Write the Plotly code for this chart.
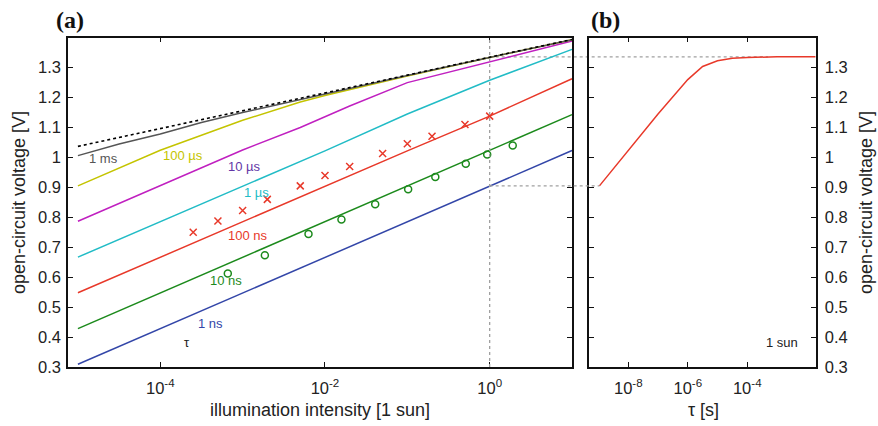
import plotly.graph_objects as go

# ---------------- data ----------------
# panel (a): log10 illumination intensity [1 sun]
log_I = [-5, -4, -3, -2, -1, 0, 1]
v_rad = [1.037, 1.096, 1.156, 1.215, 1.275, 1.335, 1.394]          # dotted limit
log_I_1ms = [-5, -4.5, -4, -3.5, -3, -2, -1, 0, 1]
v_1ms = [1.006, 1.045, 1.078, 1.117, 1.150, 1.213, 1.274, 1.334, 1.393]
log_I_100us = [-5, -4.5, -4, -3, -2.3, -2, -1.5, -1, 0, 1]
v_100us = [0.905, 0.965, 1.024, 1.124, 1.185, 1.207, 1.240, 1.272, 1.334, 1.393]
log_I_10us = [-5, -4, -3, -2.3, -2, -1.7, -1, 0, 1]
v_10us = [0.787, 0.907, 1.025, 1.100, 1.135, 1.172, 1.250, 1.319, 1.389]
v_1us = [0.667, 0.786, 0.905, 1.022, 1.145, 1.258, 1.361]
v_100ns = [0.548, 0.667, 0.786, 0.905, 1.022, 1.138, 1.263]
v_10ns = [0.428, 0.547, 0.666, 0.785, 0.904, 1.023, 1.143]
v_1ns = [0.309, 0.428, 0.547, 0.666, 0.785, 0.905, 1.023]

# measured points
x_cross_log = [-3.6, -3.3, -3.0, -2.7, -2.3, -2.0, -1.7, -1.3, -1.0, -0.7, -0.3, 0.0]
v_cross = [0.750, 0.788, 0.823, 0.860, 0.905, 0.940, 0.970, 1.013, 1.046, 1.071, 1.110, 1.138]
x_circ_log = [-3.18, -2.73, -2.20, -1.80, -1.39, -0.99, -0.66, -0.29, -0.03, 0.28]
v_circ = [0.612, 0.673, 0.744, 0.793, 0.844, 0.894, 0.935, 0.979, 1.010, 1.040]

# panel (b): log10 tau [s] at 1 sun
log_tau = [-8.97, -8.0, -7.0, -6.0, -5.5, -5.0, -4.5, -4.0, -3.0, -1.70]
v_tau = [0.905, 1.023, 1.145, 1.260, 1.304, 1.323, 1.331, 1.334, 1.336, 1.336]
log_tau_guide_end = -3.30

# labels
curve_labels = ["1 ms", "100 µs", "10 µs", "1 µs", "100 ns", "10 ns", "1 ns", "τ"]
label_log_I = [-4.69, -3.73, -2.98, -2.83, -2.94, -3.20, -3.39, -3.68]
label_v = [0.997, 1.007, 0.970, 0.883, 0.740, 0.590, 0.446, 0.383]

y_ticks = [0.3, 0.4, 0.5, 0.6, 0.7, 0.8, 0.9, 1.0, 1.1, 1.2, 1.3]
y_ticktext = ["0.3", "0.4", "0.5", "0.6", "0.7", "0.8", "0.9", "1", "1.1", "1.2", "1.3"]
xa_exps = [-4, -2, 0]
xb_exps = [-8, -6, -4]

# ---------------- styles ----------------
C_GRAY = "#555555"
C_YEL = "#c4c400"
C_MAG = "#c020c0"
C_CYAN = "#22bcc6"
C_RED = "#e8392a"
C_GREEN = "#1c8a1c"
C_BLUE = "#3346a8"
C_PURPLE = "#6236a6"
FONT = "Liberation Sans, Arial, sans-serif"

xa_rng = [-5.12, 1.0]
xb_rng = [-9.31, -1.70]
xa_dom = [0.0775, 0.6515]
xb_dom = [0.6712, 0.929]
y_dom = [0.1385, 0.9115]
y_rng = [0.3, 1.4]

def p10(v):
    return [10 ** a for a in v]

fig = go.Figure()

def line(xl, y, color, dash="solid", xaxis="x", yaxis="y", width=1.5):
    fig.add_trace(go.Scatter(x=p10(xl), y=y, mode="lines", xaxis=xaxis, yaxis=yaxis,
                             line=dict(color=color, width=width, dash=dash), showlegend=False,
                             hoverinfo="skip"))

line(log_I, v_1ns, C_BLUE)
line(log_I, v_10ns, C_GREEN)
line(log_I, v_100ns, C_RED)
line(log_I, v_1us, C_CYAN)
line(log_I_10us, v_10us, C_MAG)
line(log_I_100us, v_100us, C_YEL)
line(log_I_1ms, v_1ms, C_GRAY)
line(log_I, v_rad, "#000000", dash="dot", width=1.6)

fig.add_trace(go.Scatter(x=p10(x_cross_log), y=v_cross, mode="markers", showlegend=False,
                         marker=dict(symbol="x-thin-open", size=7, color=C_RED,
                                     line=dict(color=C_RED, width=1.5))))
fig.add_trace(go.Scatter(x=p10(x_circ_log), y=v_circ, mode="markers", showlegend=False,
                         marker=dict(symbol="circle-open", size=7, color=C_GREEN,
                                     line=dict(color=C_GREEN, width=1.5))))

line(log_tau, v_tau, C_RED, xaxis="x2", yaxis="y2")

# ---------------- guide lines ----------------
def paper_x(logval, rng, dom):
    return dom[0] + (logval - rng[0]) / (rng[1] - rng[0]) * (dom[1] - dom[0])

guide = dict(color="#a0a0a0", width=1.3, dash="dot")
x_1sun = paper_x(0, xa_rng, xa_dom)
fig.add_shape(type="line", xref="x", yref="y domain", x0=1, x1=1, y0=0, y1=1, line=guide)
fig.add_shape(type="line", xref="paper", yref="y", x0=x_1sun,
              x1=paper_x(log_tau[0], xb_rng, xb_dom), y0=v_tau[0], y1=v_tau[0], line=guide)
fig.add_shape(type="line", xref="paper", yref="y", x0=x_1sun,
              x1=paper_x(log_tau_guide_end, xb_rng, xb_dom), y0=v_tau[-1], y1=v_tau[-1],
              line=guide, layer="below")

# ---------------- annotations ----------------
def note(text, x, y, xref="paper", yref="paper", size=13, color="#222222", family=FONT, angle=0):
    fig.add_annotation(x=x, y=y, xref=xref, yref=yref, text=text, showarrow=False,
                       xanchor="center", yanchor="middle", textangle=angle,
                       font=dict(family=family, size=size, color=color))

label_colors = [C_GRAY, C_YEL, C_PURPLE, C_CYAN, C_RED, C_GREEN, C_BLUE, "#222222"]
for t, lx, ly, c in zip(curve_labels, label_log_I, label_v, label_colors):
    note(t, lx, ly, "x", "y", 13, c)
note("1 sun", -2.83, 0.383, "x2", "y2", 13)

note("<b>(a)</b>", 70 / 878, 1 - 20 / 426, size=24, color="#111", family="Liberation Serif, serif")
note("<b>(b)</b>", 605 / 878, 1 - 20 / 426, size=24, color="#111", family="Liberation Serif, serif")
note("open-circuit voltage [V]", 19 / 878, 1 - 203 / 426, size=18, angle=-90)
note("open-circuit voltage [V]", 866 / 878, 1 - 203 / 426, size=18, angle=-90)
note("illumination intensity [1 sun]", 320 / 878, 1 - 410 / 426, size=18)
note("τ [s]", 703 / 878, 1 - 410 / 426, size=18)

# ---------------- axes ----------------
ax_common = dict(showgrid=False, zeroline=False, showline=True, linecolor="#111111",
                 linewidth=1.5, mirror="ticks", ticks="inside", ticklen=5, tickwidth=1,
                 tickcolor="#111111", automargin=False,
                 tickfont=dict(family=FONT, size=16.5, color="#222"))

fig.update_layout(
    width=878, height=426, margin=dict(l=0, r=0, t=0, b=0, pad=0, autoexpand=False),
    paper_bgcolor="white", plot_bgcolor="white", showlegend=False,
    xaxis=dict(type="log", range=xa_rng, domain=xa_dom, anchor="y",
               tickvals=p10(xa_exps), ticktext=[f"10<sup>{e}</sup>" for e in xa_exps],
               ticklabelstandoff=5, **ax_common),
    yaxis=dict(range=y_rng, domain=y_dom, anchor="x", tickvals=y_ticks,
               ticktext=y_ticktext, ticklabelstandoff=2, **ax_common),
    xaxis2=dict(type="log", range=xb_rng, domain=xb_dom, anchor="y2",
                tickvals=p10(xb_exps), ticktext=[f"10<sup>{e}</sup>" for e in xb_exps],
                ticklabelstandoff=5, **ax_common),
    yaxis2=dict(range=y_rng, domain=y_dom, anchor="x2", side="right", tickvals=y_ticks,
                ticktext=y_ticktext, ticklabelstandoff=4, **ax_common),
)

fig.write_html("out.html")
